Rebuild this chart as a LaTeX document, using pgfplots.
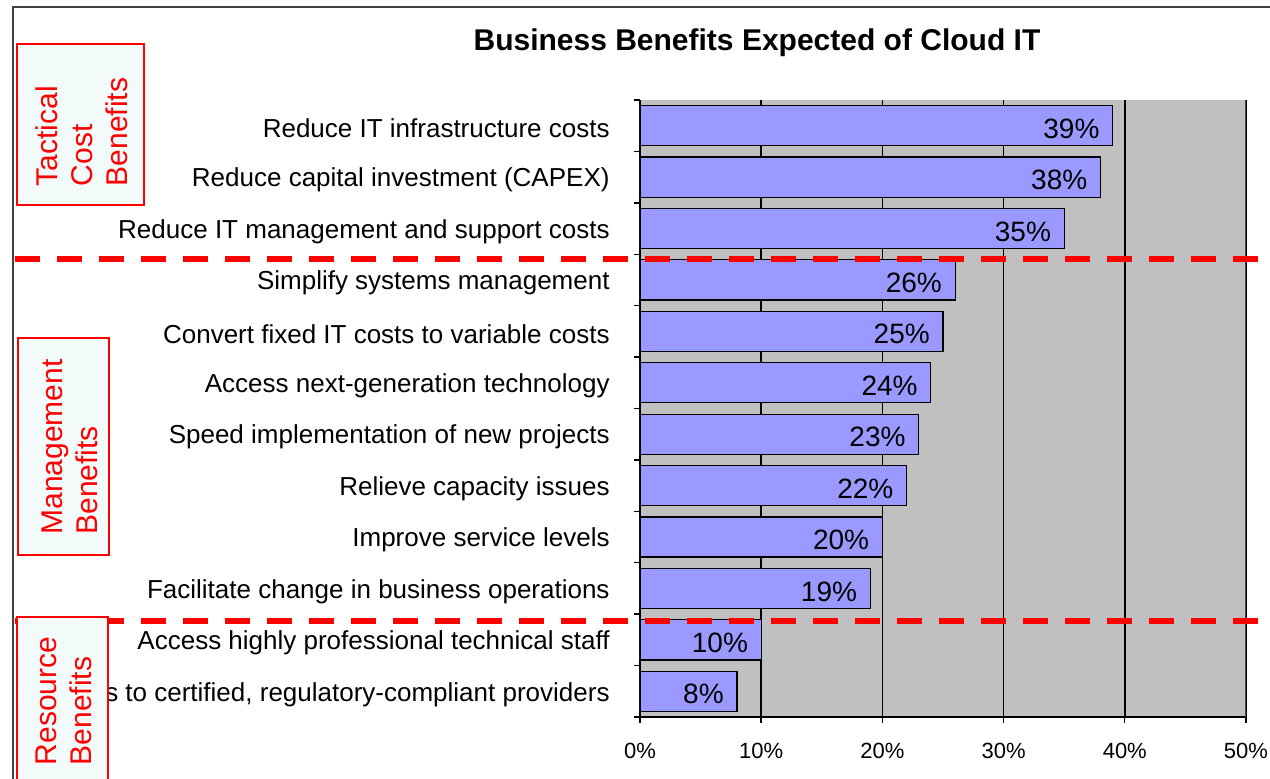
\documentclass[border=0pt]{standalone}
\usepackage{pgfplots}
\pgfplotsset{compat=1.18}
\usepackage{fontspec}
\setmainfont{Liberation Sans}
\definecolor{plotbg}{RGB}{192,192,192}
\definecolor{barfill}{RGB}{153,153,255}
\definecolor{boxfill}{RGB}{242,250,250}
\definecolor{framegray}{RGB}{64,64,64}
\begin{document}
\begin{tikzpicture}[x=0.5pt,y=0.5pt]
  \path[use as bounding box] (0,0) rectangle (1270,779);
  \clip (0,0) rectangle (1270,779);
  % chart frame
  \draw[framegray, line width=1pt] (13,-10) -- (13,772) -- (1290,772);
  \node[font=\bfseries\fontsize{15}{18}\selectfont] at (757,736) {Business Benefits Expected of Cloud IT};
  \begin{axis}[at={(320pt,31pt)}, anchor=south west, scale only axis,
      width=303pt, height=308.5pt,
      xbar, bar width=0.78,
      xmin=0, xmax=50, ymin=-0.5, ymax=11.5,
      axis x line*=bottom, axis y line*=left,
      axis line style={line width=1pt, -},
      axis background/.style={fill=plotbg},
      xtick={0,10,...,50}, xticklabels={0\%,10\%,20\%,30\%,40\%,50\%},
      xmajorgrids, major grid style={black, line width=0.75pt},
      ytick={-0.5,0.5,...,11.5}, y tick label as interval,
      yticklabels={{Access to certified, regulatory-compliant providers},
        Access highly professional technical staff,
        Facilitate change in business operations,
        Improve service levels,
        Relieve capacity issues,
        Speed implementation of new projects,
        Access next-generation technology,
        Convert fixed IT costs to variable costs,
        Simplify systems management,
        Reduce IT management and support costs,
        Reduce capital investment (CAPEX),
        Reduce IT infrastructure costs},
      tick align=outside, major tick length=3pt,
      tick style={black, line width=0.7pt},
      xticklabel style={font=\fontsize{11}{13}\selectfont, inner sep=0pt, yshift=-10pt},
      yticklabel style={font=\fontsize{13}{15}\selectfont, inner sep=0pt, xshift=-12pt, yshift=-1.5pt},
      nodes near coords={\pgfmathprintnumber{\pgfplotspointmeta}\%},
      /pgf/number format/assume math mode=true,
      every node near coord/.append style={anchor=east, xshift=-3pt, yshift=-1.5pt, black,
        font=\fontsize{14}{16}\selectfont},
    ]
    \addplot[fill=barfill, draw=black, line width=0.6pt] coordinates {
      (8,0) (10,1) (19,2) (20,3) (22,4) (23,5)
      (24,6) (25,7) (26,8) (35,9) (38,10) (39,11)};
    \draw[gray!60!black, line width=0.8pt] (axis cs:50,-0.5) -- (axis cs:50,11.5);
  \end{axis}
  % group separators
  \draw[red, line width=3pt, dash pattern=on 12.5pt off 8.5pt] (15,520) -- (1275,520);
  \draw[red, line width=3pt, dash pattern=on 12.5pt off 8.5pt] (15,158) -- (1275,158);
  % group boxes
  \draw[red, line width=1pt, fill=boxfill] (17,574) rectangle (144,735);
  \draw[red, line width=1pt, fill=boxfill] (18,224) rectangle (109,441);
  \draw[red, line width=1pt, fill=boxfill] (17,-21) rectangle (108,162);
  \node[red, rotate=90, align=left, inner sep=0pt, font=\fontsize{15}{17.5}\selectfont]
    at (82,647) {Tactical\\Cost\\Benefits};
  \node[red, rotate=90, align=left, inner sep=0pt, font=\fontsize{15}{17.5}\selectfont]
    at (70,332) {Management\\Benefits};
  \node[red, rotate=90, align=left, inner sep=0pt, font=\fontsize{15}{17.5}\selectfont]
    at (63.5,78) {Resource\\Benefits};
\end{tikzpicture}
\end{document}
